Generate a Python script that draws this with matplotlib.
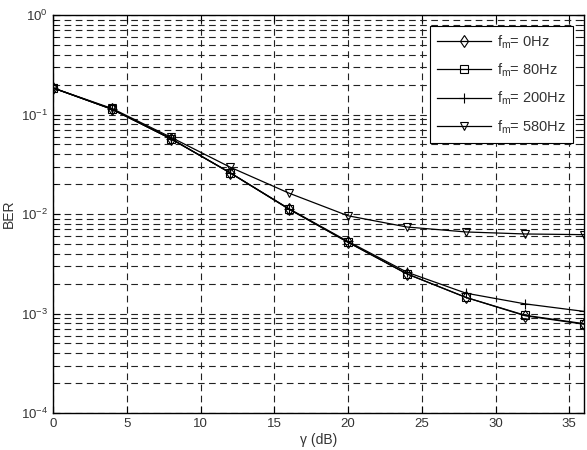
import matplotlib
matplotlib.use("Agg")
import matplotlib.pyplot as plt
from matplotlib.ticker import LogLocator, NullFormatter

plt.rcParams['font.family'] = ['Liberation Sans', 'DejaVu Sans']
plt.rcParams['mathtext.fontset'] = 'custom'
plt.rcParams['mathtext.rm'] = 'Liberation Sans'
plt.rcParams['mathtext.it'] = 'Liberation Sans'

snr = [0, 4, 8, 12, 16, 20, 24, 28, 32, 36]
ber_0hz = [0.185, 0.113, 0.057, 0.026, 0.0112, 0.0052, 0.0025, 0.00145, 0.00095, 0.00078]
ber_80hz = [0.185, 0.113, 0.057, 0.026, 0.0112, 0.0052, 0.0025, 0.00145, 0.00096, 0.00079]
ber_200hz = [0.185, 0.113, 0.057, 0.026, 0.0113, 0.0053, 0.0026, 0.0016, 0.00125, 0.00105]
ber_580hz = [0.185, 0.115, 0.059, 0.0296, 0.0162, 0.0096, 0.0074, 0.0066, 0.0063, 0.0062]
labels = ['$f_m$= 0Hz', '$f_m$= 80Hz', '$f_m$= 200Hz', '$f_m$= 580Hz']
xticks = [0, 5, 10, 15, 20, 25, 30, 35]

fig = plt.figure(figsize=(5.87, 4.5), dpi=100)
ax = fig.add_axes([53/587, 1 - 413/450, (584 - 53)/587, (413 - 15)/450])

ax.semilogy(snr, ber_0hz, 'k-', marker='d', mfc='none', ms=6, lw=0.9, mew=0.8, label=labels[0])
ax.semilogy(snr, ber_80hz, 'k-', marker='s', mfc='none', ms=6, lw=0.9, mew=0.8, label=labels[1])
ax.semilogy(snr, ber_200hz, 'k-', marker='+', mfc='none', ms=7, lw=0.9, mew=0.8, label=labels[2])
ax.semilogy(snr, ber_580hz, 'k-', marker='v', mfc='none', ms=6, lw=0.9, mew=0.8, label=labels[3])

ax.set_xlim(0, 36)
ax.set_ylim(1e-4, 1)
ax.set_xticks(xticks)
ax.yaxis.set_major_locator(LogLocator(base=10, numticks=10))
ax.yaxis.set_minor_locator(LogLocator(base=10, subs=range(2, 10), numticks=20))
ax.yaxis.set_minor_formatter(NullFormatter())

ax.grid(True, which='major', axis='both', color='#222222', linestyle=(0, (6, 4)), lw=0.8)
ax.grid(True, which='minor', axis='y', color='#222222', linestyle=(0, (6, 4)), lw=0.8)
ax.tick_params(which='both', direction='in', top=True, right=True, labelsize=9.5,
               labelcolor='#333333')
ax.tick_params(which='major', length=5)
ax.tick_params(which='minor', length=3)
for s in ax.spines.values():
    s.set_linewidth(1.0)

ax.set_xlabel('γ (dB)', fontsize=10, labelpad=2, color='#333333')
ax.set_ylabel('BER', fontsize=10, labelpad=4, color='#333333')

leg = ax.legend(loc='upper right', fontsize=10.5, frameon=True, fancybox=False,
                edgecolor='black', framealpha=1, handlelength=3.7, handletextpad=0.4,
                labelspacing=0.75, borderaxespad=0.75, borderpad=0.5)
leg.get_frame().set_linewidth(0.8)
for t in leg.get_texts():
    t.set_color('#333333')

fig.savefig('out.png', dpi=100)
